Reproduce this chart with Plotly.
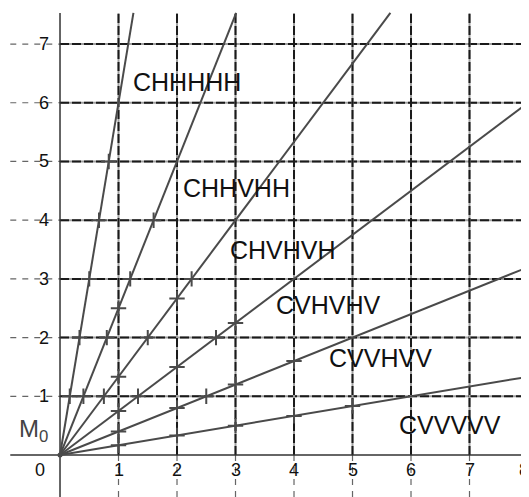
import plotly.graph_objects as go

# ---- data ----
x_ticks = [1, 2, 3, 4, 5, 6, 7, 8]
y_ticks = [1, 2, 3, 4, 5, 6, 7]
x_tick_labels = ["1", "2", "3", "4", "5", "6", "7", "8"]
y_tick_labels = ["1", "2", "3", "4", "5", "6", "7"]
line_names = ["CHHHHH", "CHHVHH", "CHVHVH", "CVHVHV", "CVVHVV", "CVVVVV"]
anchor_x = [1, 2, 3, 4, 5, 6]   # each line passes through origin and (anchor_x, anchor_y)
anchor_y = [6, 5, 4, 3, 2, 1]
label_x = [2.17, 3.02, 3.81, 4.59, 5.48, 6.67]
label_y = [6.35, 4.55, 3.49, 2.56, 1.65, 0.51]

# page body has an 8px margin, so the figure is 8px smaller and ranges start at pixel 8
X_MIN, X_MAX = -0.889, 8.017
Y_MIN, Y_MAX = -0.715, 7.614
GRID_TOP = 7.53
LEFT_EXT = -0.85

fig = go.Figure()

def seg(x0, y0, x1, y1, color, width, dash=None):
    fig.add_shape(type="line", x0=x0, y0=y0, x1=x1, y1=y1, layer="below",
                  line=dict(color=color, width=width, dash=dash))

# outside (sparse) dashed extensions
for yv in y_ticks:
    seg(LEFT_EXT, yv, 0, yv, "#666666", 1.2, "6px,6px")
for xv in x_ticks:
    seg(xv, Y_MIN, xv, 0, "#666666", 1.2, "6px,6px")

# heavy dashed grid
for yv in y_ticks:
    seg(0, yv, X_MAX + 0.05, yv, "#a0a0a0", 2)
    seg(0, yv, X_MAX + 0.05, yv, "#1a1a1a", 2, "9px,3px")
for xv in x_ticks:
    seg(xv, 0, xv, GRID_TOP, "#a0a0a0", 2)
    seg(xv, 0, xv, GRID_TOP, "#1a1a1a", 2, "9px,3px")

# axes
seg(0, Y_MIN, 0, GRID_TOP, "#333333", 1.5)
seg(LEFT_EXT, 0, X_MAX + 0.05, 0, "#333333", 1.5)

# rays from origin with tick marks at grid crossings
for name, ax_, ay_ in zip(line_names, anchor_x, anchor_y):
    slope = ay_ / ax_
    x_end = min(X_MAX + 0.05, GRID_TOP / slope)
    fig.add_trace(go.Scatter(x=[0, x_end], y=[0, slope * x_end], mode="lines",
                             line=dict(color="#4a4a4a", width=2),
                             hoverinfo="skip", showlegend=False))
    tx, ty = [], []
    for xv in x_ticks:
        if xv < ax_:
            tx.append(xv); ty.append(slope * xv)
    for yv in y_ticks:
        if yv < ay_:
            tx.append(yv / slope); ty.append(yv)
    fig.add_trace(go.Scatter(x=tx, y=ty, mode="markers",
                             marker=dict(symbol="cross-thin", size=11,
                                         line=dict(color="#4a4a4a", width=2)),
                             hoverinfo="skip", showlegend=False))

fig.add_trace(go.Scatter(x=[0], y=[0], mode="markers",
                         marker=dict(symbol="circle", size=5, color="#4a4a4a"),
                         hoverinfo="skip", showlegend=False))

FONT = "Liberation Sans, Arial"

# line labels
for name, lx, ly in zip(line_names, label_x, label_y):
    fig.add_annotation(x=lx, y=ly, text=name, showarrow=False,
                       font=dict(family=FONT, size=25, color="#111111"))

# tick labels
for yv, t in zip(y_ticks, y_tick_labels):
    fig.add_annotation(x=-0.27, y=yv, text=t, showarrow=False,
                       font=dict(family=FONT, size=18, color="#111111"))
for xv, t in zip(x_ticks, x_tick_labels):
    fig.add_annotation(x=min(xv, 7.93), y=-0.26, text=t, showarrow=False,
                       font=dict(family=FONT, size=18, color="#111111"))
fig.add_annotation(x=-0.34, y=-0.26, text="0", showarrow=False,
                   font=dict(family=FONT, size=18, color="#111111"))
fig.add_annotation(x=-0.45, y=0.42, text="M<sub>0</sub>", showarrow=False,
                   font=dict(family=FONT, size=24, color="#444444"))

fig.update_layout(
    width=521, height=489,
    margin=dict(l=0, r=0, t=0, b=0),
    paper_bgcolor="white", plot_bgcolor="white",
    xaxis=dict(range=[X_MIN, X_MAX], visible=False, fixedrange=True),
    yaxis=dict(range=[Y_MIN, Y_MAX], visible=False, fixedrange=True),
)

fig.write_html("out.html")
